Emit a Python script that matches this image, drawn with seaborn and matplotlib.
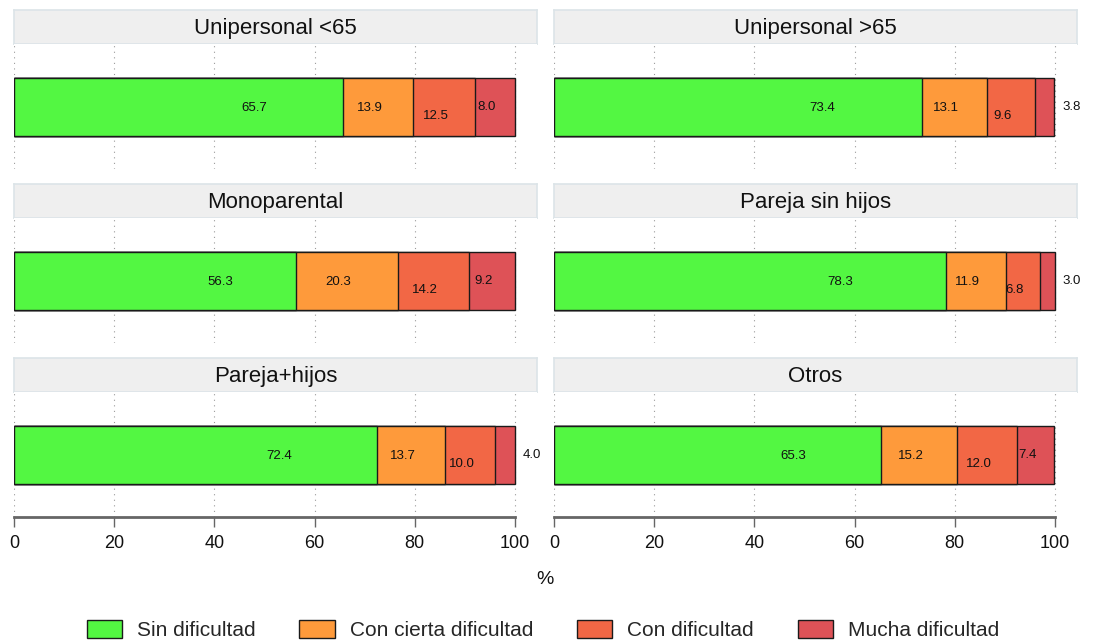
import matplotlib
matplotlib.use("Agg")
import matplotlib.pyplot as plt
import seaborn as sns
import pandas as pd
import numpy as np
from matplotlib.patches import Patch

# ---- data ----
households = ["Unipersonal <65", "Unipersonal >65", "Monoparental",
              "Pareja sin hijos", "Pareja+hijos", "Otros"]
categories = ["Sin dificultad", "Con cierta dificultad", "Con dificultad", "Mucha dificultad"]
sin_dificultad = [65.7, 73.4, 56.3, 78.3, 72.4, 65.3]
con_cierta = [13.9, 13.1, 20.3, 11.9, 13.7, 15.2]
con_dificultad = [12.5, 9.6, 14.2, 6.8, 10.0, 12.0]
mucha = [8.0, 3.8, 9.2, 3.0, 4.0, 7.4]
xticks = [0, 20, 40, 60, 80, 100]

colors = ["#53F742", "#FE9A3B", "#F26745", "#DE5257"]

rows = []
for i, h in enumerate(households):
    vals = [sin_dificultad[i], con_cierta[i], con_dificultad[i], mucha[i]]
    cum = np.cumsum(vals)
    for c, v, cu in zip(categories, vals, cum):
        rows.append(dict(hogar=h, cat=c, value=v, cum=cu))
df = pd.DataFrame(rows)

sns.set_theme(style="white")
plt.rcParams["font.family"] = ["Liberation Sans", "DejaVu Sans"]

W, H = 1095, 640
fig = plt.figure(figsize=(W / 100, H / 100), dpi=100)

col_x = [14, 554]
panel_w = 523
strip_tops = [10, 184, 358]
strip_h = 34
panel_h = 125
bar_h = 0.464
xmax = 104.4
y_off = [0.02, 0.02, 0.16, 0.0]

for idx, h in enumerate(households):
    r, c = divmod(idx, 2)
    x0 = col_x[c]
    st = strip_tops[r]
    # strip
    sax = fig.add_axes([x0 / W, 1 - (st + strip_h) / H, panel_w / W, strip_h / H])
    sax.set_facecolor("#EFEFEF")
    sax.set_xticks([]); sax.set_yticks([])
    for sp in sax.spines.values():
        sp.set_color("#DCE4E8"); sp.set_linewidth(1.2)
    sax.text(0.5, 0.47, h, ha="center", va="center", fontsize=16, color="#111111",
             transform=sax.transAxes)

    pt = st + strip_h
    ax = fig.add_axes([x0 / W, 1 - (pt + panel_h) / H, panel_w / W, panel_h / H])
    sub = df[df.hogar == h].reset_index(drop=True)
    for k in range(len(categories) - 1, -1, -1):
        sns.barplot(data=sub.iloc[[k]], x="cum", y="hogar", orient="h",
                    color=colors[k], saturation=1, width=bar_h,
                    edgecolor="#1a1a1a", linewidth=1.0, ax=ax, zorder=3)
    ax.set_xlim(0, xmax)
    ax.set_ylim(0.5, -0.5)
    ax.set_ylabel(""); ax.set_xlabel("")
    ax.set_yticks([])
    ax.set_xticks(xticks)
    ax.grid(axis="x", linestyle=(0, (1, 4)), color="#9a9a9a", linewidth=0.8, zorder=0)
    ax.set_axisbelow(True)
    for sp in ["top", "right", "left"]:
        ax.spines[sp].set_visible(False)

    # labels
    for k in range(len(categories)):
        v = sub.loc[k, "value"]
        end = sub.loc[k, "cum"]
        start = end - v
        if v < 5:
            xl = 103.4
        elif k == 0:
            xl = start + 0.73 * v
        else:
            xl = start + v / 2 - 1.7
        ax.text(xl, y_off[k] * bar_h, f"{v:.1f}", ha="center", va="center",
                fontsize=9.5, color="#111111", zorder=5)

    if r == 2:
        ax.spines["bottom"].set_visible(True)
        ax.spines["bottom"].set_bounds(0, 100)
        ax.spines["bottom"].set_color("#666666")
        ax.spines["bottom"].set_linewidth(2)
        ax.tick_params(axis="x", bottom=True, length=7, width=1, color="#666666",
                       labelsize=13, pad=6, labelcolor="#111111")
    else:
        ax.spines["bottom"].set_visible(False)
        ax.tick_params(axis="x", bottom=False, labelbottom=False)

fig.text(545 / W, 1 - 580 / H, "%", ha="center", va="center", fontsize=14,
         color="#111111")

handles = [Patch(facecolor=colors[k], edgecolor="#1a1a1a", linewidth=1.0, label=categories[k])
           for k in range(4)]
leg = fig.legend(handles=handles, loc="center", bbox_to_anchor=(543 / W, 1 - 630 / H),
                 ncol=4, frameon=False, prop={"size": 15},
                 handlelength=1.7, handleheight=1.0, columnspacing=2.1, handletextpad=0.72)

fig.savefig("out.png", dpi=100, facecolor="white")
